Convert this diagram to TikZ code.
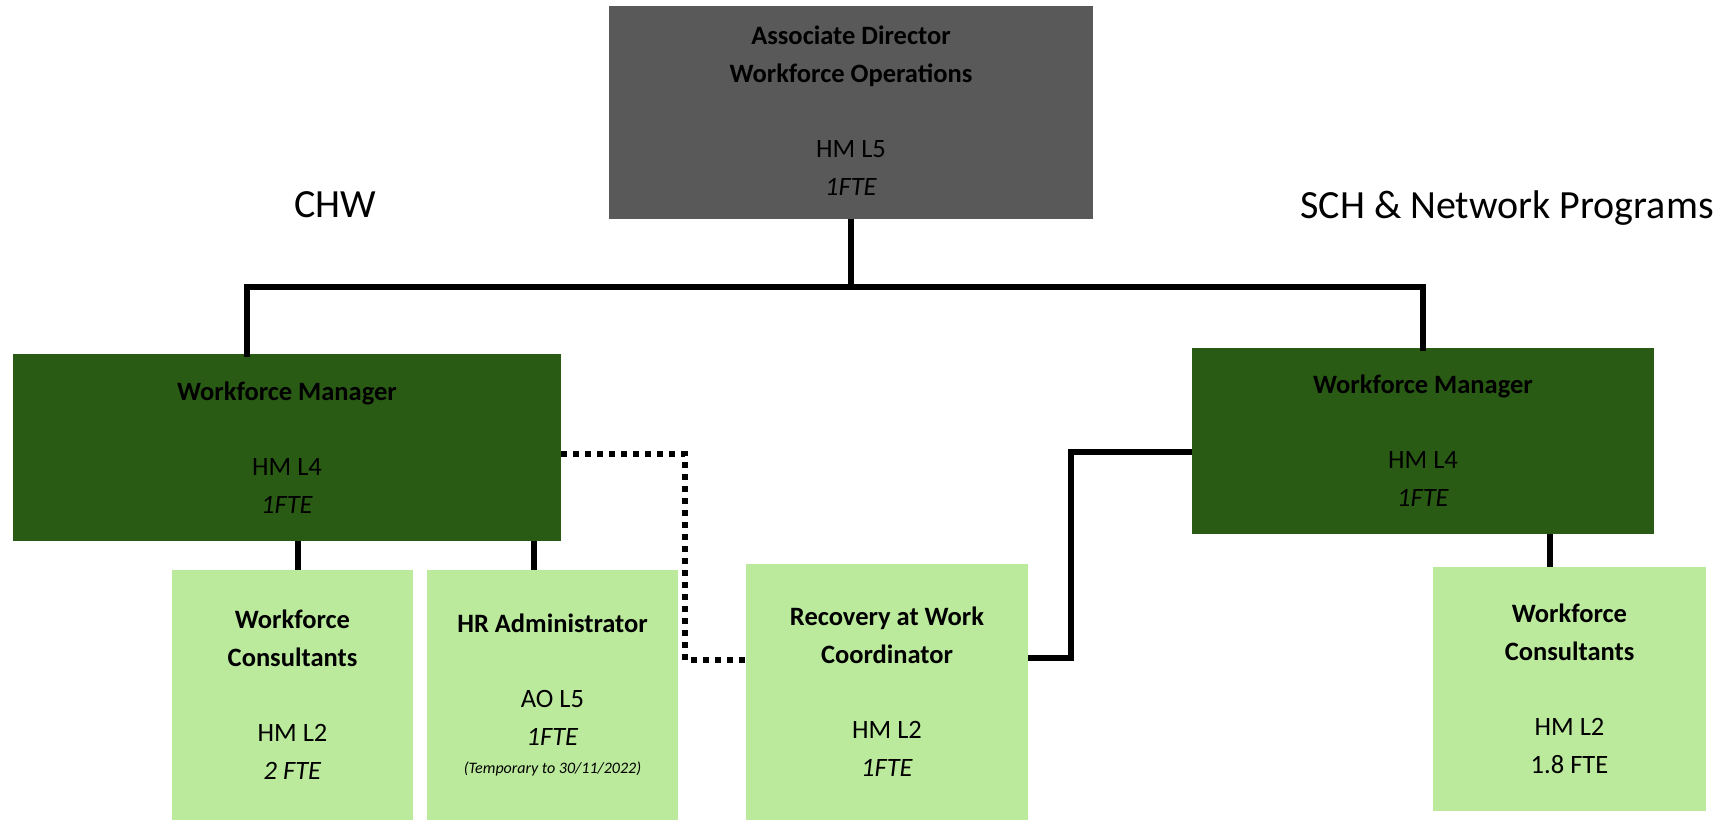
\documentclass[tikz,border=0pt]{standalone}
\usepackage{fontspec}
\setmainfont{Carlito}
\definecolor{topgray}{HTML}{595959}
\definecolor{darkgreen}{HTML}{2A5B15}
\definecolor{lightgreen}{HTML}{BBEA9C}
\begin{document}
\begin{tikzpicture}[x=0.5pt,y=-0.5pt,
  box/.style={rectangle,inner sep=0pt,align=center,font=\fontsize{13.25}{19}\selectfont},
  topbox/.style={box,fill=topgray},
  mgrbox/.style={box,fill=darkgreen},
  staffbox/.style={box,fill=lightgreen},
  link/.style={line width=3pt,black},
  dotlink/.style={line width=3pt,black,dash pattern=on 3pt off 3pt},
  region/.style={font=\fontsize{20}{24}\selectfont,anchor=base,inner sep=0pt}]
\useasboundingbox (0,0) rectangle (1733,820);

\node[topbox,minimum width=242pt,minimum height=106.5pt,text depth=1.5pt] (top) at (851,112.5)
  {\textbf{Associate Director}\\\textbf{Workforce Operations}\\[18.5pt]HM L5\\\textit{1FTE}};

\node[mgrbox,minimum width=274pt,minimum height=93.5pt] (wml) at (287,447.5)
  {\textbf{Workforce Manager}\\[18.5pt]HM L4\\\textit{1FTE}};
\node[mgrbox,minimum width=231pt,minimum height=93pt] (wmr) at (1423,441)
  {\textbf{Workforce Manager}\\[18.5pt]HM L4\\\textit{1FTE}};

\node[staffbox,minimum width=120.5pt,minimum height=125pt] (wfcl) at (292.5,695)
  {\textbf{Workforce}\\\textbf{Consultants}\\[18.5pt]HM L2\\\textit{2 FTE}};
\node[staffbox,minimum width=125.5pt,minimum height=125pt] (hra) at (552.5,695)
  {\textbf{HR Administrator}\\[18.5pt]AO L5\\\textit{1FTE}\\[-5.25pt]{\fontsize{8}{10}\selectfont\textit{(Temporary to 30/11/2022)}}};
\node[staffbox,minimum width=141pt,minimum height=128pt] (rec) at (887,692)
  {\textbf{Recovery at Work}\\\textbf{Coordinator}\\[18.5pt]HM L2\\\textit{1FTE}};
\node[staffbox,minimum width=136.5pt,minimum height=122pt] (wfcr) at (1569.5,689)
  {\textbf{Workforce}\\\textbf{Consultants}\\[18.5pt]HM L2\\1.8 FTE};

\node[region] (chw) at (335,217.5) {CHW};
\node[region] (sch) at (1507,218) {SCH \& Network Programs};

\coordinate (bar) at (853,287);
\draw[link] (top.south) -- (top.south |- bar);
\draw[link,line cap=rect] ([xshift=117pt]wml.north west) -- ([xshift=117pt]wml.north west |- bar) -| (wmr.north);

\draw[link] ([xshift=142.5pt]wml.south west) -- ([xshift=142.5pt]wml.south west |- wfcl.north);
\draw[link] ([xshift=260.5pt]wml.south west) -- ([xshift=260.5pt]wml.south west |- hra.north);
\draw[link] ([xshift=179pt]wmr.south west) -- ([xshift=179pt]wmr.south west |- wfcr.north);

\draw[dotlink] ([yshift=-3.25pt]wml.east) -- ++(124,0) |- ([yshift=16pt]rec.west);
\draw[link] ([yshift=17pt]rec.east) -- ++(43,0) |- ([yshift=-5.5pt]wmr.west);
\end{tikzpicture}
\end{document}
